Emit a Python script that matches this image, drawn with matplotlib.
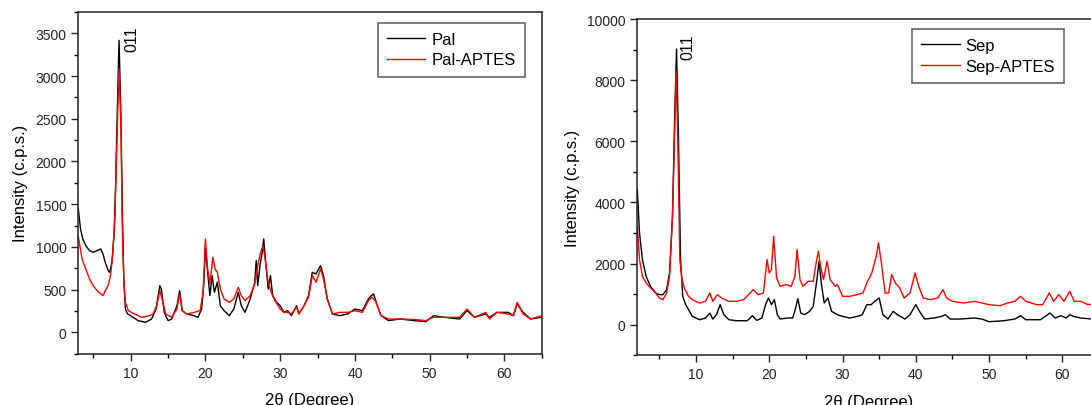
import matplotlib
matplotlib.use("Agg")
import matplotlib.pyplot as plt
from matplotlib.ticker import MultipleLocator

plt.rcParams['font.family'] = ['Liberation Sans', 'DejaVu Sans']

# ---------------- Left panel data (Pal / Pal-APTES) ----------------
pal_x = [3, 3.3, 3.6, 4.0, 4.5, 5.0, 5.5, 6.0, 6.3, 6.6, 7.0, 7.2, 7.5, 7.8, 8.0, 8.2, 8.45,
         8.7, 8.9, 9.1, 9.3, 9.6, 10, 11, 12, 12.8, 13.4, 13.9, 14.1, 14.5, 15, 15.5, 16.2,
         16.55, 16.9, 17.5, 18.5, 19.0, 19.5, 19.8, 20.0, 20.3, 20.6, 20.9, 21.2, 21.6, 22.0,
         22.5, 23.2, 23.8, 24.4, 24.8, 25.3, 26.0, 26.6, 26.8, 27.0, 27.3, 27.6, 27.8, 28.1,
         28.4, 28.7, 29.0, 29.5, 30.0, 30.5, 31.0, 31.5, 32.2, 32.5, 33.2, 33.8, 34.3, 34.8,
         35.4, 35.8, 36.3, 37.0, 38.0, 39.0, 40.0, 41.0, 41.8, 42.2, 42.5, 43.0, 43.5, 44.5,
         46, 48, 49.5, 50.5, 52, 54, 55, 56, 57.5, 58, 59, 60.5, 61.2, 61.7, 62.5, 63.5, 65]
pal_y = [1445, 1210, 1094, 1016, 957, 937, 957, 976, 918, 820, 722, 703, 820, 1172, 1758,
         2540, 3418, 2540, 1367, 586, 273, 215, 195, 137, 117, 156, 273, 547, 508, 234, 137,
         156, 312, 488, 254, 215, 195, 176, 273, 586, 996, 703, 430, 664, 469, 586, 312, 254,
         195, 273, 469, 312, 234, 391, 586, 840, 547, 781, 937, 1094, 781, 508, 664, 430, 351,
         312, 234, 254, 195, 312, 215, 312, 430, 703, 683, 781, 664, 391, 215, 195, 215, 273,
         254, 391, 430, 450, 312, 195, 137, 156, 137, 125, 195, 176, 156, 254, 176, 215, 176,
         234, 234, 195, 332, 234, 156, 176]

palap_x = [3, 3.5, 4, 4.5, 5.0, 5.5, 6.0, 6.3, 6.6, 7.0, 7.3, 7.6, 7.9, 8.2, 8.45, 8.7, 8.9,
           9.1, 9.3, 9.7, 10.5, 11.5, 12.5, 13.0, 13.5, 13.9, 14.2, 14.7, 15.5, 16.2, 16.55,
           16.9, 17.5, 18.5, 19.3, 19.7, 20.0, 20.3, 20.6, 21.0, 21.3, 21.6, 22.0, 22.5, 23.2,
           23.8, 24.4, 24.8, 25.3, 26.0, 26.6, 27.0, 27.4, 27.7, 28.0, 28.4, 28.8, 29.3, 30.0,
           30.5, 31.0, 31.5, 32.2, 32.5, 33.2, 33.8, 34.3, 34.8, 35.4, 35.8, 36.3, 37.0, 38.0,
           39.0, 40.0, 41.0, 41.8, 42.3, 42.7, 43.0, 43.5, 44.5, 46, 48, 49.5, 50.5, 52, 54, 55,
           56, 57.5, 58, 59, 60.5, 61.2, 61.7, 62.5, 63.5, 65]
palap_y = [1125, 860, 742, 625, 547, 488, 450, 430, 488, 547, 664, 898, 1367, 2343, 3086,
           2421, 1172, 586, 352, 254, 215, 176, 195, 215, 312, 488, 391, 215, 176, 273, 450,
           254, 215, 234, 254, 469, 1094, 742, 566, 879, 742, 703, 508, 391, 352, 391, 527,
           430, 371, 430, 566, 781, 937, 1016, 859, 586, 469, 371, 273, 234, 234, 215, 293,
           215, 312, 410, 664, 586, 742, 625, 391, 215, 234, 234, 254, 234, 371, 410, 371, 312,
           195, 156, 156, 150, 137, 176, 176, 176, 273, 176, 234, 156, 234, 215, 195, 352, 215,
           156, 195]

# ---------------- Right panel data (Sep / Sep-APTES) ----------------
sep_x = [2, 2.3, 2.7, 3.2, 3.8, 4.5, 5.0, 5.5, 6.0, 6.4, 6.8, 7.1, 7.35, 7.6, 7.9, 8.2, 8.6,
         9.0, 9.5, 10.5, 11.3, 11.9, 12.3, 12.8, 13.3, 13.8, 14.5, 15.5, 17.0, 17.7, 18.3,
         19.0, 19.5, 19.9, 20.3, 20.7, 21.1, 21.5, 22.5, 23.2, 23.6, 23.9, 24.3, 24.8, 25.5,
         26.0, 26.5, 26.8, 27.1, 27.5, 28.0, 28.5, 29.3, 30.0, 31.0, 32.0, 32.7, 33.3, 33.9,
         34.4, 35.0, 35.5, 36.2, 36.9, 37.5, 38.5, 39.2, 40.0, 40.5, 41.2, 42.5, 43.5, 44.0,
         44.7, 46, 48, 49, 50, 52, 53.5, 54.3, 55, 57, 58.3, 59.0, 59.8, 60.5, 61.0, 61.5,
         62.5, 64, 65]
sep_y = [4427, 3006, 2131, 1585, 1257, 1038, 984, 984, 1148, 1694, 3552, 6831, 9017, 6285,
         2131, 929, 656, 492, 273, 164, 219, 383, 186, 328, 656, 328, 164, 131, 131, 295, 142,
         219, 656, 874, 656, 820, 328, 186, 219, 219, 547, 853, 383, 328, 437, 601, 1476, 2077,
         1367, 710, 874, 437, 328, 273, 219, 273, 328, 656, 656, 765, 874, 328, 186, 437, 328,
         186, 328, 656, 437, 186, 219, 273, 328, 186, 186, 219, 186, 98, 131, 186, 295, 164,
         164, 383, 219, 295, 219, 328, 273, 219, 186, 219]

sepap_x = [2, 2.3, 2.7, 3.2, 3.8, 4.5, 5.0, 5.5, 6.0, 6.4, 6.8, 7.1, 7.3, 7.55, 7.8, 8.1, 8.5,
           9.0, 9.5, 10.5, 11.3, 11.9, 12.3, 12.9, 13.5, 14.5, 15.5, 16.5, 17.4, 17.8, 18.5,
           19.2, 19.7, 20.0, 20.3, 20.6, 21.0, 21.5, 22.3, 23.0, 23.5, 23.8, 24.2, 24.6, 25.3,
           26.0, 26.4, 26.7, 27.0, 27.4, 27.9, 28.3, 29.0, 29.3, 30.0, 31.0, 32.0, 32.8, 33.3,
           34.0, 34.6, 34.9, 35.3, 35.8, 36.3, 36.7, 37.2, 37.8, 38.4, 39.2, 39.9, 40.4, 41.0,
           42.0, 43.0, 43.7, 44.2, 45.0, 46.5, 48.0, 49.0, 50.0, 51.5, 52.5, 53.5, 54.3, 55.0,
           56.5, 57.3, 58.2, 58.8, 59.5, 60.2, 61.0, 61.6, 62.5, 63.5, 65]
sepap_y = [3224, 2131, 1585, 1366, 1202, 1038, 874, 820, 1038, 1585, 3552, 6285, 8307, 5738,
           2131, 1476, 1148, 929, 820, 710, 765, 1038, 765, 984, 874, 765, 765, 820, 1038, 1148,
           984, 1038, 2131, 1694, 1804, 2897, 1530, 1257, 1312, 1257, 1585, 2459, 1476, 1257,
           1421, 1421, 2022, 2405, 1913, 1476, 2077, 1476, 1257, 1312, 929, 929, 984, 1038,
           1366, 1694, 2241, 2678, 2022, 1038, 1038, 1640, 1366, 1202, 874, 1038, 1694, 1257,
           874, 820, 874, 1148, 874, 765, 710, 765, 710, 656, 623, 710, 765, 929, 765, 656, 656,
           1038, 765, 984, 765, 1093, 765, 765, 656, 710]

left_labels = ["Pal", "Pal-APTES"]
right_labels = ["Sep", "Sep-APTES"]
peak_label = "011"
xlabel = "2\u03b8 (Degree)"
ylabel = "Intensity (c.p.s.)"

W, H = 1091, 406
fig = plt.figure(figsize=(W / 100, H / 100), dpi=100)

axL = fig.add_axes([78.3 / W, (H - 354.7) / H, 463.5 / W, 341.7 / H])
axR = fig.add_axes([637.3 / W, (H - 356.3) / H, 461.8 / W, 336.3 / H])


def style(ax):
    for s in ax.spines.values():
        s.set_linewidth(1.1)
        s.set_color('#222222')
    ax.tick_params(axis='both', which='major', direction='out', length=5, width=1,
                   labelsize=10, colors='#222222', top=False, right=False)
    ax.tick_params(axis='both', which='minor', direction='out', length=3, width=1,
                   top=False, right=False)
    ax.xaxis.set_major_locator(MultipleLocator(10))
    ax.xaxis.set_minor_locator(MultipleLocator(5))
    ax.set_xlabel(xlabel, fontsize=12, labelpad=9)
    ax.set_ylabel(ylabel, fontsize=12, labelpad=5)


# Left panel
axL.plot(pal_x, pal_y, color='black', lw=1.0, label=left_labels[0])
axL.plot(palap_x, palap_y, color='#ff0000', lw=1.0, label=left_labels[1])
axL.set_xlim(3, 65)
axL.set_ylim(-250, 3750)
axL.yaxis.set_major_locator(MultipleLocator(500))
axL.yaxis.set_minor_locator(MultipleLocator(250))
style(axL)
axL.text(10.2, 3290, peak_label, rotation=90, ha='center', va='bottom', fontsize=11.5)
legL = axL.legend(loc='upper right', bbox_to_anchor=(0.963, 0.968), borderaxespad=0,
                  fontsize=12, frameon=True, fancybox=False, edgecolor='#333333',
                  handlelength=2.3, handletextpad=0.35, labelspacing=0.32, borderpad=0.55)
legL.get_frame().set_linewidth(1.1)

# Right panel
axR.plot(sep_x, sep_y, color='black', lw=1.0, label=right_labels[0])
axR.plot(sepap_x, sepap_y, color='#ff0000', lw=1.0, label=right_labels[1])
axR.set_xlim(2, 65)
axR.set_ylim(-1000, 10000)
axR.yaxis.set_major_locator(MultipleLocator(2000))
axR.yaxis.set_minor_locator(MultipleLocator(1000))
style(axR)
axR.text(8.92, 8700, peak_label, rotation=90, ha='center', va='bottom', fontsize=11.5)
legR = axR.legend(loc='upper right', bbox_to_anchor=(0.924, 0.970), borderaxespad=0,
                  fontsize=12, frameon=True, fancybox=False, edgecolor='#333333',
                  handlelength=2.3, handletextpad=0.35, labelspacing=0.32, borderpad=0.55)
legR.get_frame().set_linewidth(1.1)

fig.savefig("out.png", dpi=100)
